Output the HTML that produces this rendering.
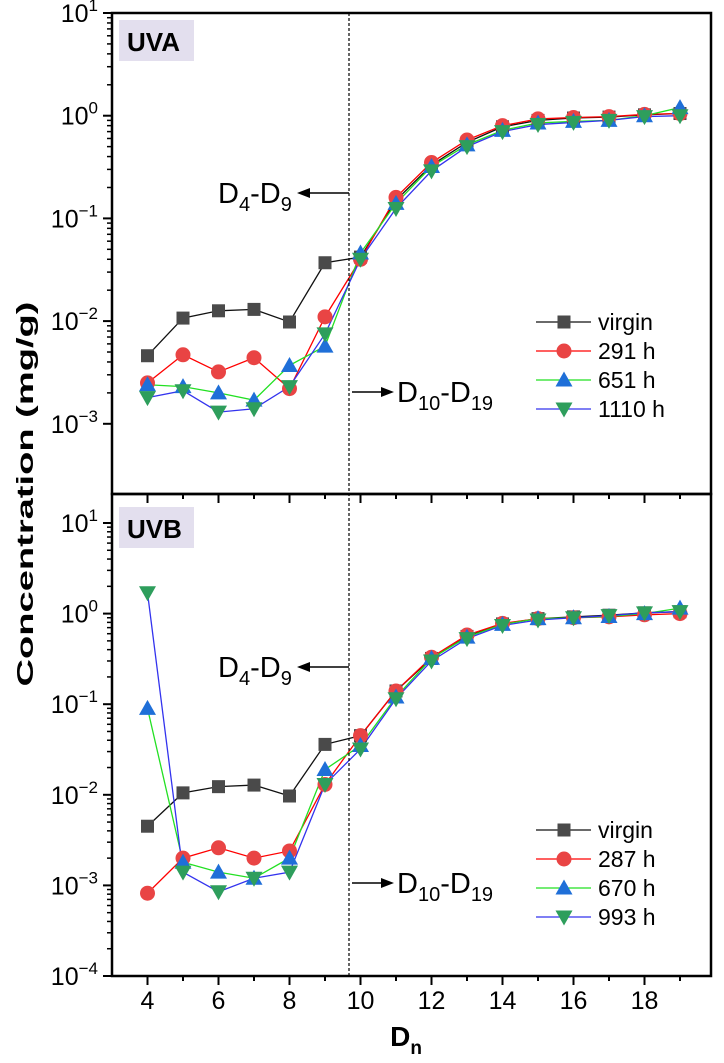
<!DOCTYPE html>
<html><head><meta charset="utf-8"><style>
body{margin:0;background:#fff}
svg{display:block;font-family:"Liberation Sans",Arial,sans-serif}
</style></head><body>
<svg id="chart" width="724" height="1063" viewBox="0 0 724 1063" xmlns="http://www.w3.org/2000/svg"></svg>
<script>
const xs=[4,5,6,7,8,9,10,11,12,13,14,15,16,17,18,19];
const uvaVirgin=[0.0046,0.0107,0.0126,0.013,0.0098,0.037,0.042,0.15,0.33,0.55,0.78,0.9,0.95,0.97,1.02,1.05];
const uva291=[0.0025,0.0047,0.0032,0.0044,0.0022,0.011,0.04,0.16,0.35,0.58,0.8,0.93,0.96,0.98,1.03,1.05];
const uva651=[0.0024,0.0023,0.002,0.0017,0.0037,0.0057,0.046,0.14,0.32,0.52,0.72,0.85,0.88,0.9,1.0,1.2];
const uva1110=[0.0018,0.0021,0.0013,0.0014,0.0023,0.0075,0.04,0.125,0.29,0.5,0.7,0.82,0.86,0.9,0.98,1.0];
const uvbVirgin=[0.0045,0.0105,0.0123,0.0128,0.0097,0.036,0.045,0.14,0.32,0.56,0.77,0.88,0.92,0.96,1.02,1.05];
const uvb287=[0.00082,0.002,0.0026,0.002,0.0024,0.013,0.045,0.14,0.33,0.58,0.78,0.88,0.9,0.92,0.97,1.0];
const uvb670=[0.09,0.0018,0.0014,0.0012,0.002,0.019,0.035,0.12,0.32,0.55,0.76,0.88,0.9,0.93,1.0,1.15];
const uvb993=[1.7,0.0014,0.00085,0.0012,0.0014,0.013,0.032,0.115,0.3,0.53,0.74,0.85,0.9,0.95,1.02,1.05];
const uvaLabels=["virgin","291 h","651 h","1110 h"];
const uvbLabels=["virgin","287 h","670 h","993 h"];
const xTicks=[4,6,8,10,12,14,16,18];

const svg=document.getElementById('chart');
const NS='http://www.w3.org/2000/svg';
function mk(tag,attrs,parent){const e=document.createElementNS(NS,tag);for(const k in attrs)e.setAttribute(k,attrs[k]);(parent||svg).appendChild(e);return e;}
const L=112,R=711;
const X=v=>147.5+(v-4)*35.5;
const panels=[
 {top:13,bot:494,y1:13,dec:102.7,minE:-3,maxE:1,name:'uva',title:'UVA',series:[uvaVirgin,uva291,uva651,uva1110],labels:uvaLabels,legY:322,d49:193,d1019:392},
 {top:494,bot:976,y1:523,dec:90.6,minE:-4,maxE:1,name:'uvb',title:'UVB',series:[uvbVirgin,uvb287,uvb670,uvb993],labels:uvbLabels,legY:830,d49:667,d1019:883}
];
const styles=[{m:'sq',fill:'#4a4a4a',line:'#111'},{m:'ci',fill:'#e94444',line:'#f00'},{m:'up',fill:'#1f6fd8',line:'#22e022'},{m:'dn',fill:'#2e9e5c',line:'#3333ee'}];
function marker(g,type,x,y,fill,name){
 let e;
 if(type==='sq')e=mk('rect',{x:x-6.5,y:y-6.5,width:13,height:13,fill:fill},g);
 else if(type==='ci')e=mk('circle',{cx:x,cy:y,r:7.5,fill:fill},g);
 else if(type==='up')e=mk('polygon',{points:`${x},${y-8.5} ${x-8.5},${y+6.5} ${x+8.5},${y+6.5}`,fill:fill},g);
 else e=mk('polygon',{points:`${x},${y+8.5} ${x-8.5},${y-6.5} ${x+8.5},${y-6.5}`,fill:fill},g);
 
 
}
panels.forEach(p=>{
 const Y=v=>p.y1+(1-Math.log10(v))*p.dec;
 const g=mk('g',{});
 
 
 for(let e=p.minE;e<=p.maxE;e++){
  const y=Y(Math.pow(10,e));
  mk('line',{x1:L-9,x2:L,y1:y,y2:y,stroke:'#000','stroke-width':2},g);
  const t=mk('text',{x:L-14,y:y+9,'text-anchor':'end','font-size':25},g);
  
  
  t.innerHTML=`10<tspan dy="-11" font-size="17">${e<0?'−'+(-e):e}</tspan>`;
  if(e<p.maxE)for(let k=2;k<=9;k++){const yy=Y(k*Math.pow(10,e));if(yy>=p.top&&yy<=p.bot)mk('line',{x1:L-5,x2:L,y1:yy,y2:yy,stroke:'#000','stroke-width':1.5},g);}
 }
 for(let v=4;v<=19;v++){const x=X(v);mk('line',{x1:x,x2:x,y1:p.bot,y2:p.bot+(v%2?5:9),stroke:'#000','stroke-width':2},g);}
 mk('rect',{x:L,y:p.top,width:R-L,height:p.bot-p.top,fill:'none',stroke:'#000','stroke-width':2.5},g);
 const tb=mk('rect',{x:L+7,y:p.top+(p.name==='uva'?7:13),width:75,height:41,fill:'#e3dfee'},g);
 
 const tt=mk('text',{x:L+15,y:p.top+(p.name==='uva'?38:44),'font-size':26,'font-weight':'bold'},g);
 tt.textContent=p.title;
 
 p.series.forEach((s,i)=>{
  const st=styles[i];
  const pts=xs.map((x,j)=>X(x)+','+Y(s[j])).join(' ');
  const pl=mk('polyline',{points:pts,fill:'none',stroke:st.line,'stroke-width':1.3},g);
  
 });
 p.series.forEach((s,i)=>{const st=styles[i];xs.forEach((x,j)=>marker(g,st.m,X(x),Y(s[j]),st.fill,p.name+'-point'));});
 p.labels.forEach((lb,i)=>{
  const st=styles[i];const y=p.legY+i*29;
  mk('line',{x1:536,x2:591,y1:y,y2:y,stroke:st.line,'stroke-width':1.3},g);
  marker(g,st.m,564,y,st.fill,'legend-marker');
  const t=mk('text',{x:598,y:y+8,'font-size':23},g);t.textContent=lb;
  
 });
 const a1=mk('text',{x:218,y:p.d49+10,'font-size':29},g);
 a1.innerHTML='D<tspan dy="8" font-size="20">4</tspan><tspan dy="-8">-D</tspan><tspan dy="8" font-size="20">9</tspan>';
 
 mk('line',{x1:349,x2:308,y1:p.d49,y2:p.d49,stroke:'#000','stroke-width':1.5},g);
 mk('polygon',{points:`297,${p.d49} 310,${p.d49-5} 310,${p.d49+5}`,fill:'#000'},g);
 const a2=mk('text',{x:397,y:p.d1019+10,'font-size':29},g);
 a2.innerHTML='D<tspan dy="8" font-size="20">10</tspan><tspan dy="-8">-D</tspan><tspan dy="8" font-size="20">19</tspan>';
 
 mk('line',{x1:352,x2:383,y1:p.d1019,y2:p.d1019,stroke:'#000','stroke-width':1.5},g);
 mk('polygon',{points:`394,${p.d1019} 381,${p.d1019-5} 381,${p.d1019+5}`,fill:'#000'},g);
});
const dl=mk('line',{x1:349,x2:349,y1:13,y2:976,stroke:'#000','stroke-width':1.2,'stroke-dasharray':'3,2'});

xTicks.forEach(v=>{const t=mk('text',{x:X(v),y:1009,'text-anchor':'middle','font-size':25});t.textContent=v;
 });
const xl=mk('text',{x:406,y:1046,'text-anchor':'middle','font-size':28,'font-weight':'bold'});
xl.innerHTML='D<tspan dy="8" font-size="19">n</tspan>';

const yl=mk('text',{x:0,y:0,transform:'translate(33,494) rotate(-90)','text-anchor':'middle','font-size':23,'font-weight':'bold','textLength':385,'lengthAdjust':'spacingAndGlyphs'});
yl.textContent='Concentration (mg/g)';

</script>
</body></html>
